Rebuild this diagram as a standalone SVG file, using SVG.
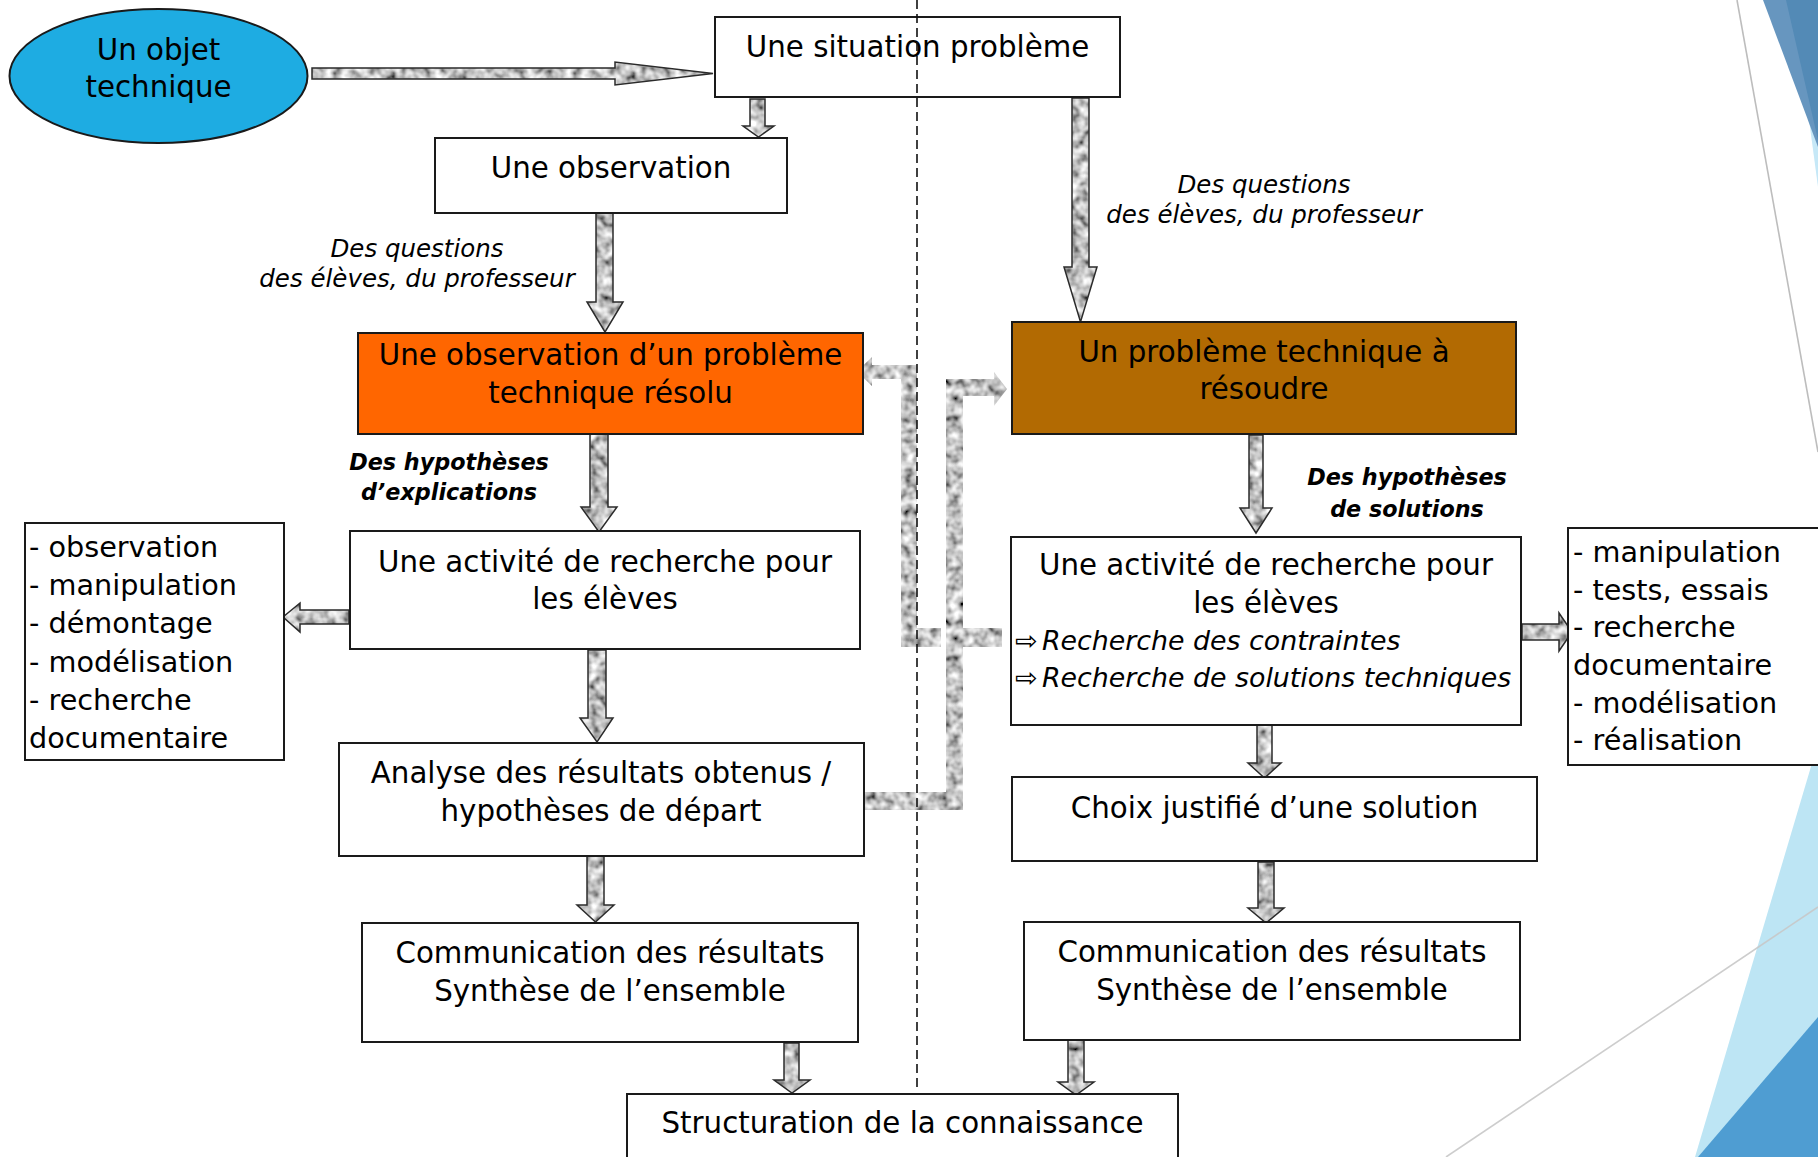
<svg xmlns="http://www.w3.org/2000/svg" width="1818" height="1157" viewBox="0 0 1818 1157">
  <defs>
    <!-- grey granite texture used to fill the block arrows -->
    <filter id="grainFx" x="0" y="0" width="1" height="1">
      <feTurbulence type="fractalNoise" baseFrequency="0.11" numOctaves="2" seed="7" stitchTiles="stitch"/>
      <feColorMatrix type="matrix" values="1.6 0 0 0 -0.25  1.6 0 0 0 -0.25  1.6 0 0 0 -0.25  0 0 0 0 1"/>
    </filter>
    <pattern id="granite" patternUnits="userSpaceOnUse" width="240" height="240">
      <rect width="240" height="240" fill="#999" filter="url(#grainFx)"/>
    </pattern>
    <style>
      .box { fill: #fff; stroke: #1a1a1a; stroke-width: 2; }
      .arrow { fill: url(#granite); stroke: #2b2b2b; stroke-width: 1.5; stroke-linejoin: miter; }
      .link { fill: url(#granite); stroke: none; }
      .t { font-family: "DejaVu Sans", "Noto Sans", sans-serif; font-size: 29.3px; fill: #000; text-anchor: middle; }
      .lab { font-style: italic; font-size: 24.5px; }
      .hyp { font-style: italic; font-weight: bold; font-size: 22.3px; }
      .lst { text-anchor: start; font-size: 28.7px; }
      .rch { text-anchor: start; font-style: italic; font-size: 26.8px; }
      .sym { font-family: "DejaVu Sans", sans-serif; font-size: 27px; text-anchor: start; }
    </style>
  </defs>

  <rect width="1818" height="1157" fill="#fff"/>

  <!-- theme decoration on the right edge -->
  <g id="decor">
    <line x1="1737" y1="0" x2="1818" y2="452" stroke="#bdbdbd" stroke-width="1.6"/>
    <polygon points="1793,0 1818,0 1818,187" fill="#c6e8f7"/>
    <polygon points="1763,0 1818,0 1818,147" fill="#6796bf"/>
    <polygon points="1786,0 1818,0 1818,140" fill="#538ab6"/>
    <polygon points="1818,743 1818,1157 1695,1157" fill="#bde5f4"/>
    <polygon points="1818,1017 1818,1157 1698,1157" fill="#4f9dd2"/>
    <line x1="1818" y1="907" x2="1446" y2="1157" stroke="#c8c8c8" stroke-width="1.6" opacity="0.9"/>
  </g>

  <g id="connectors">
    <!-- objet technique -> situation problème -->
    <polygon class="arrow" points="312,68 615,68 615,62 713,73.5 615,85 615,79 312,79"/>
    <!-- situation -> observation -->
    <polygon class="arrow" points="750,99 765,99 765,126 774,126 758.5,137 743,126 750,126"/>
    <!-- observation -> problème résolu -->
    <polygon class="arrow" points="596,213 613,213 613,302 623,302 605,332 587,302 596,302"/>
    <!-- situation -> problème à résoudre -->
    <polygon class="arrow" points="1072,98 1089,98 1089,267 1097,267 1080.5,322 1064,267 1072,267"/>
    <!-- problème résolu -> activité (gauche) -->
    <polygon class="arrow" points="590,434 608,434 608,507 617,507 599,532 581,507 590,507"/>
    <!-- activité (gauche) -> liste gauche -->
    <polygon class="arrow" points="349,610 300,610 300,603 283,617 300,632 300,624 349,624"/>
    <!-- activité (gauche) -> analyse -->
    <polygon class="arrow" points="588,650 606,650 606,718 613,718 597,742 580,718 588,718"/>
    <!-- analyse -> communication (gauche) -->
    <polygon class="arrow" points="587,856 604,856 604,905 614,905 595.5,922 577,905 587,905"/>
    <!-- communication (gauche) -> structuration -->
    <polygon class="arrow" points="784,1043 799,1043 799,1080 810,1080 792,1093 774,1080 784,1080"/>
    <!-- communication (droite) -> structuration -->
    <polygon class="arrow" points="1068,1040 1084,1040 1084,1082 1094,1082 1076,1095 1058,1082 1068,1082"/>
    <!-- problème à résoudre -> activité (droite) -->
    <polygon class="arrow" points="1249,435 1263,435 1263,508 1272,508 1256,533 1240,508 1249,508"/>
    <!-- activité (droite) -> choix -->
    <polygon class="arrow" points="1257,725 1272,725 1272,763 1281,763 1264.5,778 1248,763 1257,763"/>
    <!-- choix -> communication (droite) -->
    <polygon class="arrow" points="1258,862 1274,862 1274,908 1284,908 1266,923 1248,908 1258,908"/>
    <!-- activité (droite) -> liste droite -->
    <polygon class="arrow" points="1522,624 1559,624 1559,613 1572,632 1559,651 1559,640 1522,640"/>

    <!-- feedback links crossing the middle -->
    <rect class="link" x="962" y="628" width="40" height="19"/>
    <polygon class="link" points="857,371.5 872,357 872,365 917,365 917,628 941,628 941,647 901,647 901,379 872,379 872,386"/>
    <polygon class="link" points="865,792 946,792 946,379 994,379 994,372 1007,389 994,406 994,396 963,396 963,810 865,810"/>
  </g>

  <g id="objet-technique">
    <ellipse cx="158.5" cy="76" rx="149" ry="67" fill="#1eace2" stroke="#1a1a1a" stroke-width="2"/>
    <text class="t" x="158.5" y="60">Un objet</text>
    <text class="t" x="158.5" y="97">technique</text>
  </g>

  <g id="situation-probleme">
    <rect class="box" x="715" y="17" width="405" height="80"/>
    <text class="t" x="917.5" y="57">Une situation problème</text>
  </g>

  <g id="observation">
    <rect class="box" x="435" y="138" width="352" height="75"/>
    <text class="t" x="611" y="178">Une observation</text>
  </g>

  <g id="label-questions-gauche">
    <text class="t lab" x="417" y="257">Des questions</text>
    <text class="t lab" x="417" y="287">des élèves, du professeur</text>
  </g>

  <g id="label-questions-droite">
    <text class="t lab" x="1264" y="193">Des questions</text>
    <text class="t lab" x="1264" y="223">des élèves, du professeur</text>
  </g>

  <g id="probleme-resolu">
    <rect x="358" y="333" width="505" height="101" fill="#ff6600" stroke="#1a1a1a" stroke-width="2"/>
    <text class="t" x="610.5" y="365">Une observation d’un problème</text>
    <text class="t" x="610.5" y="403">technique résolu</text>
  </g>

  <g id="probleme-a-resoudre">
    <rect x="1012" y="322" width="504" height="112" fill="#b26a02" stroke="#1a1a1a" stroke-width="2"/>
    <text class="t" x="1264" y="362">Un problème technique à</text>
    <text class="t" x="1264" y="399">résoudre</text>
  </g>

  <g id="label-hypotheses-explications">
    <text class="t hyp" x="449" y="470">Des hypothèses</text>
    <text class="t hyp" x="449" y="500">d’explications</text>
  </g>

  <g id="label-hypotheses-solutions">
    <text class="t hyp" x="1407" y="485">Des hypothèses</text>
    <text class="t hyp" x="1407" y="517">de solutions</text>
  </g>

  <g id="activite-gauche">
    <rect class="box" x="350" y="531" width="510" height="118"/>
    <text class="t" x="605" y="572">Une activité de recherche pour</text>
    <text class="t" x="605" y="609">les élèves</text>
  </g>

  <g id="liste-gauche">
    <rect class="box" x="25" y="523" width="259" height="237"/>
    <text class="t lst" x="29" y="557">- observation</text>
    <text class="t lst" x="29" y="595">- manipulation</text>
    <text class="t lst" x="29" y="633">- démontage</text>
    <text class="t lst" x="29" y="672">- modélisation</text>
    <text class="t lst" x="29" y="710">- recherche</text>
    <text class="t lst" x="29" y="748">documentaire</text>
  </g>

  <g id="activite-droite">
    <rect class="box" x="1011" y="537" width="510" height="188"/>
    <text class="t" x="1266" y="575">Une activité de recherche pour</text>
    <text class="t" x="1266" y="613">les élèves</text>
    <text class="sym" x="1015" y="650">⇨</text>
    <text class="t rch" x="1042" y="650">Recherche des contraintes</text>
    <text class="sym" x="1015" y="687">⇨</text>
    <text class="t rch" x="1042" y="687">Recherche de solutions techniques</text>
  </g>

  <g id="liste-droite">
    <rect class="box" x="1568" y="528" width="270" height="237"/>
    <text class="t lst" x="1573" y="562">- manipulation</text>
    <text class="t lst" x="1573" y="600">- tests, essais</text>
    <text class="t lst" x="1573" y="637">- recherche</text>
    <text class="t lst" x="1573" y="675">documentaire</text>
    <text class="t lst" x="1573" y="713">- modélisation</text>
    <text class="t lst" x="1573" y="750">- réalisation</text>
  </g>

  <g id="analyse">
    <rect class="box" x="339" y="743" width="525" height="113"/>
    <text class="t" x="601" y="783">Analyse des résultats obtenus /</text>
    <text class="t" x="601" y="821">hypothèses de départ</text>
  </g>

  <g id="choix-solution">
    <rect class="box" x="1012" y="777" width="525" height="84"/>
    <text class="t" x="1274.5" y="818">Choix justifié d’une solution</text>
  </g>

  <g id="communication-gauche">
    <rect class="box" x="362" y="923" width="496" height="119"/>
    <text class="t" x="610" y="963">Communication des résultats</text>
    <text class="t" x="610" y="1001">Synthèse de l’ensemble</text>
  </g>

  <g id="communication-droite">
    <rect class="box" x="1024" y="922" width="496" height="118"/>
    <text class="t" x="1272" y="962">Communication des résultats</text>
    <text class="t" x="1272" y="1000">Synthèse de l’ensemble</text>
  </g>

  <g id="structuration">
    <rect class="box" x="627" y="1094" width="551" height="90"/>
    <text class="t" x="902.5" y="1133">Structuration de la connaissance</text>
  </g>

  <!-- dashed separator between the two approaches -->
  <line id="separateur" x1="917" y1="0" x2="917" y2="1088" stroke="#111" stroke-width="1.6" stroke-dasharray="9 5"/>
</svg>
